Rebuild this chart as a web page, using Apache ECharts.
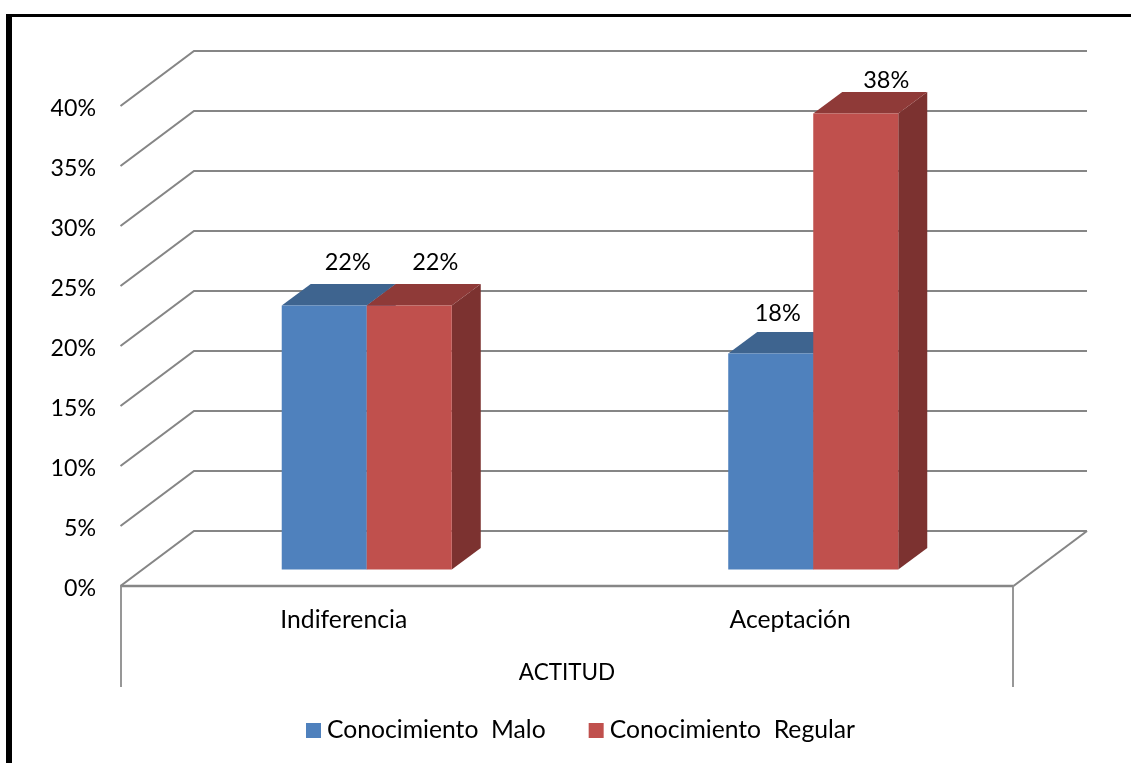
<!DOCTYPE html>
<html>
<head>
<meta charset="utf-8">
<style>html,body{margin:0;padding:0;background:#fff}#chart{width:1131px;height:763px}</style>
<script src="https://cdn.jsdelivr.net/npm/echarts@6/dist/echarts.min.js"></script>
</head>
<body>
<div id="chart"></div>
<script>
// Actitud por nivel de conocimiento (%)
const categories = ['Indiferencia', 'Aceptación'];
const malo = [22, 18];
const regular = [22, 38];
const yTicks = [0, 5, 10, 15, 20, 25, 30, 35, 40];
const seriesNames = ['Conocimiento  Malo', 'Conocimiento  Regular'];
const axisTitle = 'ACTITUD';

// Oblique projection used for the pseudo-3D look
const WALL_DX = 73.5, WALL_DY = -55;
const FLOOR_DX = 23, FLOOR_DY = -16.5;
const BAR_DX = 29, BAR_DY = -21.5;
const BAR_RATIO = 0.1904;
const FONT = 'Lato';
const GRID_COLOR = '#868686';
// Hand placement of each data label, per series and category
const labelNudge = [
  [[23.5, -43], [7, -40]],
  [[26, -43], [30.5, -33]]
];

const lineStyle = { stroke: GRID_COLOR, lineWidth: 2.1, fill: null };

function renderWall(params, api) {
  const cs = params.coordSys;
  const y = api.coord([0, api.value(0)])[1];
  const left = cs.x, right = cs.x + cs.width;
  return {
    type: 'polyline',
    silent: true,
    shape: { points: [[left, y], [left + WALL_DX, y + WALL_DY], [right + WALL_DX, y + WALL_DY]] },
    style: lineStyle
  };
}

function renderFloor(params, api) {
  const cs = params.coordSys;
  const y = api.coord([0, 0])[1];
  const left = cs.x, right = cs.x + cs.width;
  const drop = 101;
  const dropStyle = { stroke: '#8c8c8c', lineWidth: 1.8 };
  return {
    type: 'group',
    silent: true,
    children: [
      { type: 'line', shape: { x1: left, y1: y, x2: right, y2: y }, style: { stroke: GRID_COLOR, lineWidth: 2.6 } },
      { type: 'line', shape: { x1: right, y1: y, x2: right + WALL_DX, y2: y + WALL_DY }, style: lineStyle },
      { type: 'line', shape: { x1: left + 0.5, y1: y, x2: left + 0.5, y2: y + drop }, style: dropStyle },
      { type: 'line', shape: { x1: right - 0.5, y1: y, x2: right - 0.5, y2: y + drop }, style: dropStyle }
    ]
  };
}

function barRenderer(seriesIndex, colors) {
  return function (params, api) {
    const cat = api.value(0), val = api.value(1);
    const base = api.coord([cat, 0]);
    const top = api.coord([cat, val]);
    const w = api.size([1, 0])[0] * BAR_RATIO;
    const cx = base[0] + FLOOR_DX;
    const x0 = cx + (seriesIndex - 1) * w, x1 = x0 + w;
    const yb = base[1] + FLOOR_DY;
    const yt = yb - (base[1] - top[1]);
    const nudge = labelNudge[seriesIndex][params.dataIndex];
    return {
      type: 'group',
      children: [
        { type: 'polygon', shape: { points: [[x1, yb], [x1 + BAR_DX, yb + BAR_DY], [x1 + BAR_DX, yt + BAR_DY], [x1, yt]] }, style: { fill: colors.side } },
        { type: 'polygon', shape: { points: [[x0, yt], [x0 + BAR_DX, yt + BAR_DY], [x1 + BAR_DX, yt + BAR_DY], [x1, yt]] }, style: { fill: colors.top } },
        { type: 'rect', shape: { x: x0, y: yt, width: w, height: yb - yt }, style: { fill: colors.front } },
        { type: 'text', z2: 10, style: {
            x: (x0 + x1) / 2 + nudge[0], y: yt + nudge[1], text: val + '%',
            fill: '#000', font: '23.5px ' + FONT, align: 'center', verticalAlign: 'middle' } }
      ]
    };
  };
}

const blue = { front: '#4F81BD', top: '#3E648F', side: '#3A5F8A' };
const red = { front: '#C0504D', top: '#8F3A38', side: '#7C3230' };

const chart = echarts.init(document.getElementById('chart'), null, { renderer: 'canvas' });
chart.setOption({
  animation: false,
  backgroundColor: '#fff',
  textStyle: { fontFamily: FONT },
  grid: { left: 120.5, top: 106, width: 893, height: 480, containLabel: false },
  graphic: [
    // outer frame of the figure
    { type: 'rect', z: -1, shape: { x: 6, y: 14, width: 6, height: 749 }, style: { fill: '#000' } },
    { type: 'rect', z: -1, shape: { x: 6, y: 14, width: 1125, height: 3 }, style: { fill: '#000' } }
  ],
  legend: {
    data: seriesNames,
    left: 301,
    top: 713,
    itemWidth: 15,
    itemHeight: 15,
    itemGap: 43,
    icon: 'rect',
    textStyle: { fontFamily: FONT, fontSize: 24.7, color: '#000', padding: [0, 0, 0, 1] }
  },
  xAxis: {
    type: 'category',
    data: categories,
    name: axisTitle,
    nameLocation: 'middle',
    nameGap: 75,
    nameTextStyle: { fontFamily: FONT, fontSize: 22.5, color: '#000' },
    axisLine: { show: false },
    axisTick: { show: false },
    axisLabel: { margin: 22, fontFamily: FONT, fontSize: 24.7, color: '#000' }
  },
  yAxis: {
    type: 'value',
    min: 0,
    max: 40,
    interval: 5,
    axisLine: { show: false },
    axisTick: { show: false },
    splitLine: { show: false },
    axisLabel: { margin: 24.5, fontFamily: FONT, fontSize: 23.2, color: '#000', verticalAlign: 'top', lineHeight: 5, formatter: '{value}%' }
  },
  series: [
    { type: 'custom', name: 'wall', silent: true, renderItem: renderWall, encode: { y: 0 }, data: yTicks.map(v => [v]), z: 1 },
    { type: 'custom', name: 'floor', silent: true, renderItem: renderFloor, data: [[0]], z: 1 },
    { type: 'custom', name: seriesNames[0], renderItem: barRenderer(0, blue), itemStyle: { color: blue.front },
      encode: { x: 0, y: 1 }, data: malo.map((v, i) => [i, v]), z: 2 },
    { type: 'custom', name: seriesNames[1], renderItem: barRenderer(1, red), itemStyle: { color: red.front },
      encode: { x: 0, y: 1 }, data: regular.map((v, i) => [i, v]), z: 3 }
  ]
});
</script>
</body>
</html>
